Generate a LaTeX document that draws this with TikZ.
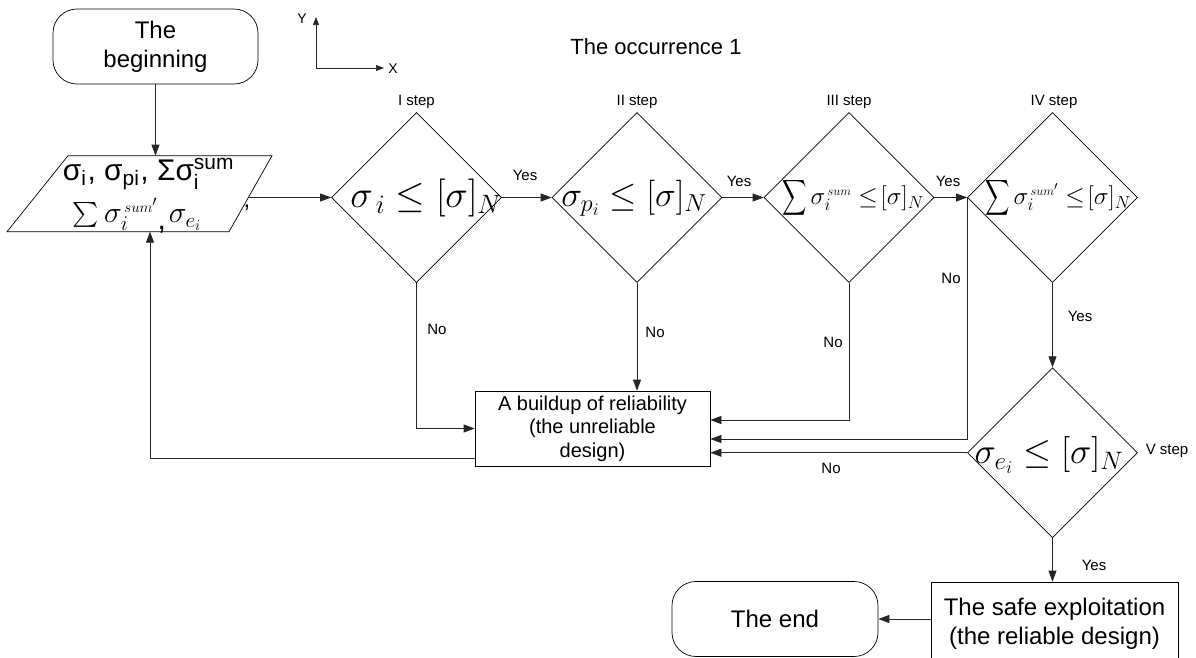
\documentclass[tikz,border=0pt]{standalone}
\usepackage{fix-cm}
\usepackage{fontspec}
\setmainfont{Liberation Sans}
\usepackage{amsmath}
\usepackage{graphicx}
\usetikzlibrary{shapes.geometric,arrows.meta}
\newcommand{\narrowsum}{\mathop{\scalebox{0.68}[1]{$\displaystyle\sum$}}\nolimits}
\begin{document}
\begin{tikzpicture}[x=1pt,y=-1pt,
  conn/.style={draw=black!85, line width=0.7pt, -{Triangle[length=11pt,width=8pt]}},
  axis/.style={draw=black!85, line width=0.7pt, -{Triangle[length=8pt,width=6pt]}},
  shp/.style={draw=black, line width=0.7pt},
  term/.style={shp, rounded corners=24pt, align=center, inner sep=0pt, font=\fontsize{24}{29}\selectfont},
  proc/.style={shp, align=center, inner sep=0pt},
  dec/.style={shp, diamond, minimum width=170pt, minimum height=170pt, inner sep=0pt},
  lbl/.style={font=\fontsize{15}{18}\selectfont, inner sep=0pt},
  frm/.style={inner sep=0pt}
]
\useasboundingbox (0,0) rectangle (1196,657);

% title and axes
\node[font=\fontsize{22}{26}\selectfont, inner sep=0pt] (title) at (656,47) {The occurrence 1};
\coordinate (ax0) at (316,68);
\coordinate (axy) at (316,17);
\coordinate (axx) at (384,68);
\draw[axis] (ax0) -- (axy);
\draw[axis] (ax0) -- (axx);
\node[lbl, font=\fontsize{14}{16}\selectfont] (ylab) at (302,19) {Y};
\node[lbl, font=\fontsize{14}{16}\selectfont] (xlab) at (393,69) {X};

% beginning
\node[term, minimum width=205pt, minimum height=75pt] (begin) at (155.5,46.5) {The\\beginning};

% parallelogram (input)
\draw[shp] (68,155.7) coordinate (pTL) -- (272,155.7) coordinate (pTR)
  -- (229,231.7) coordinate (pBR) -- (7,231.7) coordinate (pBL) -- cycle;
\coordinate (pin) at (155.5,155.7);
\coordinate (pout) at (248.6,197.5);
\coordinate (pfb) at (150,231.7);
\node[frm] (pt1) at (149,174) {\resizebox{172pt}{!}{σ$_{\text{i}}$, σ$_{\text{pi}}$, Σσ$_{\text{i}}^{\text{sum}}$}};
\node[frm, font=\fontsize{24}{28}\selectfont] (pcomma) at (247,208) {,};
\node[frm, font=\fontsize{30}{32}\selectfont] (pt2) at (137,216) {$\textstyle\sum\sigma_{i}^{\scriptscriptstyle\,sum'}$\raisebox{-7pt}{,}\hspace{3pt}$\sigma_{e_i}$};

% decisions
\node[dec] (d1) at (416.5,197.5) {};
\node[dec] (d2) at (637,197.5) {};
\node[dec] (d3) at (849,197.5) {};
\node[dec] (d4) at (1052.5,197.5) {};
\node[dec] (d5) at (1052.5,452.7) {};

\node[frm, font=\fontsize{38}{40}\selectfont] (f1) at (426,198) {$\sigma_{\,i}\leq[\sigma]_N$};
\node[frm, font=\fontsize{35}{40}\selectfont] (f2) at (634,198) {$\sigma_{p_i}\leq[\sigma]_N$};
\node[frm, font=\fontsize{25}{30}\selectfont] (f3) at (853,198) {$\narrowsum\sigma_i^{\scriptscriptstyle\,sum}\leq\![\sigma]_N$};
\node[frm, font=\fontsize{25}{30}\selectfont] (f4) at (1058,198) {$\narrowsum\sigma_i^{\scriptscriptstyle\,sum'}\leq\![\sigma]_N$};
\node[frm, font=\fontsize{36}{40}\selectfont] (f5) at (1049,455) {$\sigma_{e_i}\leq[\sigma]_N$};

\node[lbl] (s1) at (416.5,102) {I step};
\node[lbl] (s2) at (637,102) {II step};
\node[lbl] (s3) at (849,102) {III step};
\node[lbl] (s4) at (1054,102) {IV step};
\node[lbl] (s5) at (1167,451) {V step};

% process boxes
\node[proc, minimum width=235pt, minimum height=75pt, font=\fontsize{20}{23.5}\selectfont] (box) at (592.5,428.5) {A buildup of reliability\\(the unreliable\\design)};
\node[proc, minimum width=247pt, minimum height=84pt, font=\fontsize{24}{29}\selectfont] (safe) at (1054.5,624) {The safe exploitation\\(the reliable design)};
\node[term, minimum width=206pt, minimum height=75pt] (end) at (775,619) {The end};

% connectors
\draw[conn] (begin.south) -- (pin);
\draw[conn] (pout) -- (d1.west);
\draw[conn] (d1.east) -- (d2.west);
\draw[conn] (d2.east) -- (d3.west);
\draw[conn] (d3.east) -- (d4.west);
\draw[conn] (d1.south) |- (box.west);
\draw[conn] (d2.south) -- (d2.south |- box.north);
\draw[conn] (d3.south) |- ([yshift=8.5pt]box.east);
\draw[conn] (d4.west) |- ([yshift=-10.5pt]box.east);
\draw[conn] (d4.south) -- (d5.north);
\draw[conn] (d5.west) -- (d5.west -| box.east);
\draw[conn] ([yshift=-29.5pt]box.west) -| (pfb);
\draw[conn] (d5.south) -- (d5.south |- safe.north);
\draw[conn] (safe.west |- end.east) -- (end.east);

% connector labels
\node[lbl] (y1) at (525,175) {Yes};
\node[lbl] (y2) at (739,181) {Yes};
\node[lbl] (y3) at (948,181) {Yes};
\node[lbl] (y4) at (1080,316) {Yes};
\node[lbl] (y5) at (1094,565) {Yes};
\node[lbl] (n1) at (437,329) {No};
\node[lbl] (n2) at (655,332) {No};
\node[lbl] (n3) at (833,342) {No};
\node[lbl] (n4) at (951,278) {No};
\node[lbl] (n5) at (831,468) {No};
\end{tikzpicture}
\end{document}
